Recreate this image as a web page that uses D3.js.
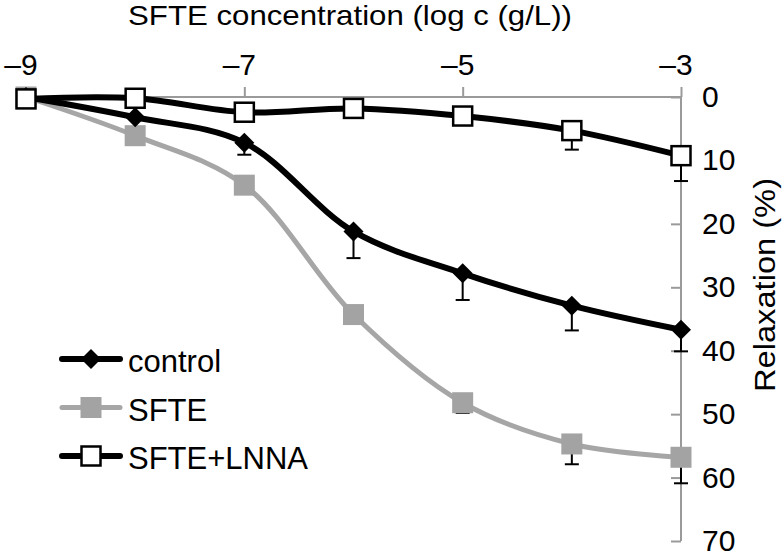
<!DOCTYPE html>
<html>
<head>
<meta charset="utf-8">
<script src="https://cdn.jsdelivr.net/npm/d3@7"></script>
<style>
  html, body { margin: 0; padding: 0; background: #fff; }
  svg { display: block; }
  text { font-family: "Liberation Sans", Arial, Helvetica, sans-serif; fill: #000; }
</style>
</head>
<body>
<svg id="chart" width="782" height="554"></svg>
<script>
// ---- data ----
const concentrations = [-9, -8, -7, -6, -5, -4, -3];
const xTickValues = [-9, -7, -5, -3];
const yTickValues = [0, 10, 20, 30, 40, 50, 60, 70];
const seriesNames = ["control", "SFTE", "SFTE+LNNA"];
const controlValues = [0, 3.2, 7.2, 21.2, 27.8, 32.9, 36.7];
const controlErrors = [0, 0, 1.9, 4.2, 4.2, 3.9, 3.4];
const sfteValues = [0, 6.1, 13.9, 34.3, 48.2, 54.7, 56.8];
const sfteErrors = [0, 0, 0, 0, 1.6, 3.2, 4.1];
const lnnaValues = [0.3, 0.2, 2.4, 1.8, 3.0, 5.3, 9.25];
const lnnaErrors = [0, 0, 0, 0, 0.6, 3.0, 4.0];
const xTitle = "SFTE concentration (log c (g/L))";
const yTitle = "Relaxation (%)";

// ---- layout ----
const svg = d3.select("#chart");
const x = d3.scaleLinear().domain([-9, -3]).range([26, 681]);
const y = d3.scaleLinear().domain([0, 70]).range([97, 541]);
const axisColor = "#9a9a9a";
const fontSize = 30;

// x axis (top)
const xAxis = svg.append("g").attr("transform", `translate(0,${y(0)})`)
  .call(d3.axisTop(x).tickValues(xTickValues).tickSize(10).tickFormat(""));
xAxis.select(".domain").attr("stroke", axisColor).attr("stroke-width", 2)
  .attr("d", `M${x(-9)},0H${x(-3)}`);
xAxis.selectAll(".tick line").attr("stroke", axisColor).attr("stroke-width", 2);

svg.append("g").selectAll("text").data(xTickValues).join("text")
  .attr("x", d => Math.max(x(d) - 5, 17))
  .attr("y", 75)
  .attr("text-anchor", "middle")
  .style("font-size", fontSize + "px")
  .text(d => "\u2013" + Math.abs(d));

// y axis (right)
const yAxis = svg.append("g").attr("transform", `translate(${x(-3)},0)`)
  .call(d3.axisLeft(y).tickValues(yTickValues).tickSize(10).tickFormat(""));
yAxis.select(".domain").attr("stroke", axisColor).attr("stroke-width", 2)
  .attr("d", `M0,${y(0)}V${y(70)}`);
yAxis.selectAll(".tick line").attr("stroke", axisColor).attr("stroke-width", 2);

svg.append("g").selectAll("text").data(yTickValues).join("text")
  .attr("x", 702)
  .attr("y", d => y(d) + 10)
  .style("font-size", fontSize + "px")
  .text(d => d);

// titles
svg.append("text").attr("x", 128).attr("y", 25)
  .style("font-size", "28px")
  .attr("textLength", 444).attr("lengthAdjust", "spacingAndGlyphs")
  .text(xTitle);

svg.append("text")
  .attr("transform", `translate(775,285) rotate(-90)`)
  .attr("text-anchor", "middle")
  .style("font-size", fontSize + "px")
  .attr("textLength", 214).attr("lengthAdjust", "spacingAndGlyphs")
  .text(yTitle);

// ---- series ----
const series = [
  { name: seriesNames[1], values: sfteValues, errors: sfteErrors, color: "#a6a6a6", width: 5, marker: "square" },
  { name: seriesNames[0], values: controlValues, errors: controlErrors, color: "#000", width: 6, marker: "diamond" },
  { name: seriesNames[2], values: lnnaValues, errors: lnnaErrors, color: "#000", width: 6, marker: "open" }
];

const line = d3.line().x((d, i) => x(concentrations[i])).y(d => y(d)).curve(d3.curveCatmullRom.alpha(0.5));

function drawMarker(g, type, cx, cy) {
  if (type === "diamond") {
    const r = 10;
    g.append("path").attr("d", `M${cx},${cy - r}L${cx + r},${cy}L${cx},${cy + r}L${cx - r},${cy}Z`)
      .attr("fill", "#000");
  } else if (type === "square") {
    const s = 21;
    g.append("rect").attr("x", cx - s / 2).attr("y", cy - s / 2).attr("width", s).attr("height", s)
      .attr("fill", "#a3a3a3");
  } else {
    const s = 19;
    g.append("rect").attr("x", cx - s / 2).attr("y", cy - s / 2).attr("width", s).attr("height", s)
      .attr("fill", "#fff").attr("stroke", "#000").attr("stroke-width", 2.5);
  }
}

series.forEach(s => {
  const g = svg.append("g");
  g.append("path").attr("d", line(s.values)).attr("fill", "none")
    .attr("stroke", s.color).attr("stroke-width", s.width).attr("stroke-linejoin", "round");
  // error bars (downward only)
  s.values.forEach((v, i) => {
    if (s.errors[i] > 0) {
      const cx = x(concentrations[i]);
      g.append("line").attr("x1", cx).attr("x2", cx).attr("y1", y(v)).attr("y2", y(v + s.errors[i]))
        .attr("stroke", "#000").attr("stroke-width", 2);
      g.append("line").attr("x1", cx - 7).attr("x2", cx + 7).attr("y1", y(v + s.errors[i])).attr("y2", y(v + s.errors[i]))
        .attr("stroke", "#000").attr("stroke-width", 2);
    }
  });
  s.values.forEach((v, i) => drawMarker(g, s.marker, x(concentrations[i]), y(v)));
});

// ---- legend ----
const legendOrder = [series[1], series[0], series[2]];
const legend = svg.append("g");
legendOrder.forEach((s, i) => {
  const cy = 359 + i * 48.5;
  legend.append("line").attr("x1", 62).attr("x2", 120).attr("y1", cy).attr("y2", cy)
    .attr("stroke", s.color).attr("stroke-width", s.width).attr("stroke-linecap", "round");
  drawMarker(legend, s.marker, 91, cy);
  legend.append("text").attr("x", 128).attr("y", cy + 13)
    .style("font-size", "31px").text(s.name);
});
</script>
</body>
</html>
